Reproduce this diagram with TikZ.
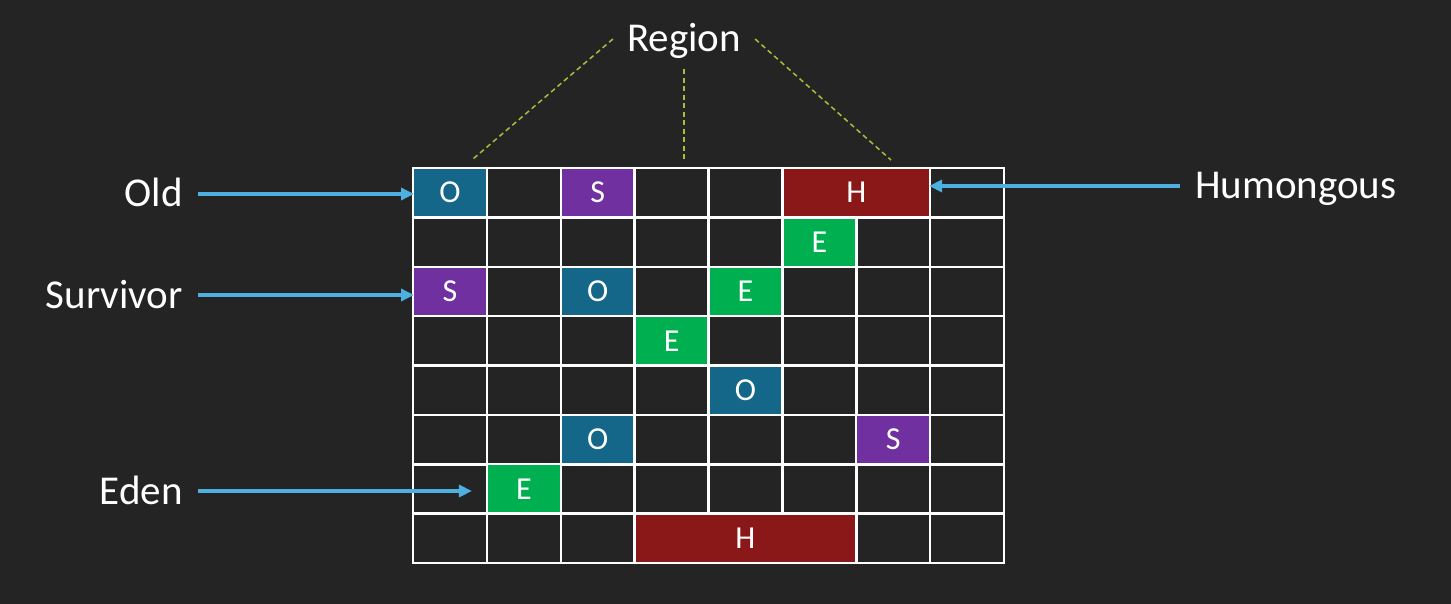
\documentclass[tikz,border=0pt]{standalone}
\usepackage{fontspec}
\setmainfont{Carlito}
\usetikzlibrary{arrows.meta}
\definecolor{board}{RGB}{36,36,36}
\definecolor{oldc}{RGB}{21,103,138}
\definecolor{survc}{RGB}{112,48,160}
\definecolor{edenc}{RGB}{0,176,80}
\definecolor{humc}{RGB}{139,24,24}
\definecolor{arrc}{RGB}{77,176,224}
\definecolor{dashc}{RGB}{170,190,60}

\begin{document}
\begin{tikzpicture}[x=1pt,y=-1pt,
	lbl/.style={text=white,font=\fontsize{41}{48}\selectfont,inner sep=0pt,text height=26pt,text depth=0pt},
	cell/.style={text=white,font=\fontsize{32}{38}\selectfont,inner sep=0pt,minimum width=71.4pt,minimum height=46.9pt},
	ptr/.style={arrc,line width=3.5pt,-{Triangle[length=13pt,width=12pt]}},
	guide/.style={dashc,line width=1.5pt,dash pattern=on 5pt off 3.5pt},
	gridline/.style={white,line width=2.5pt,line cap=rect}]
	\useasboundingbox (0,0) rectangle (1451,604);
	\fill[board] (0,0) rectangle (1451,604);
	
	%REGIONS
	\begin{scope}[shift={(413,168)},x=73.875pt,y=-49.375pt]
		\foreach \i in {0,...,8} {
			\draw[gridline] (\i,0) -- (\i,8);
			\draw[gridline] (0,\i) -- (8,\i);
		}
		%
		\node[cell,fill=oldc] (o1) at (0.5,0.5) {O};
		\node[cell,fill=survc] (s1) at (2.5,0.5) {S};
		\node[cell,fill=humc,minimum width=145.3pt] (h1) at (6,0.5) {H};
		\node[cell,fill=edenc] (e1) at (5.5,1.5) {E};
		\node[cell,fill=survc] (s2) at (0.5,2.5) {S};
		\node[cell,fill=oldc] (o2) at (2.5,2.5) {O};
		\node[cell,fill=edenc] (e2) at (4.5,2.5) {E};
		\node[cell,fill=edenc] (e3) at (3.5,3.5) {E};
		\node[cell,fill=oldc] (o3) at (4.5,4.5) {O};
		\node[cell,fill=oldc] (o4) at (2.5,5.5) {O};
		\node[cell,fill=survc] (s3) at (6.5,5.5) {S};
		\node[cell,fill=edenc] (e4) at (1.5,6.5) {E};
		\node[cell,fill=humc,minimum width=219.1pt] (h2) at (4.5,7.5) {H};
	\end{scope}
	
	%LABELS
	\node[lbl,anchor=east] (old) at (183,194) {Old};
	\node[lbl,anchor=east] (surv) at (183,295) {Survivor};
	\node[lbl,anchor=east] (eden) at (183,491) {Eden};
	\node[lbl,anchor=west] (hum) at (1195,186) {Humongous};
	\node[lbl] (region) at (684,39) {Region};
	
	%ARROWS
	\coordinate (edentip) at ([xshift=-16pt]e4.west);
	\draw[ptr] ([xshift=15pt]old.east) -- (old.east -| o1.west);
	\draw[ptr] ([xshift=15pt]surv.east) -- (surv.east -| s2.west);
	\draw[ptr] ([xshift=15pt]eden.east) -- (eden.east -| edentip);
	\draw[ptr] ([xshift=-15pt]hum.west) -- (hum.west -| h1.east);
	
	%DASHED GUIDES
	\coordinate (gl) at (473,159);
	\coordinate (gm) at (684,160);
	\coordinate (gr) at (891,160);
	\draw[guide] ([xshift=-14pt]region.west) -- (gl);
	\draw[guide] ([yshift=-17pt]region.south) -- (gm);
	\draw[guide] ([xshift=14pt]region.east) -- (gr);
\end{tikzpicture}
\end{document}
